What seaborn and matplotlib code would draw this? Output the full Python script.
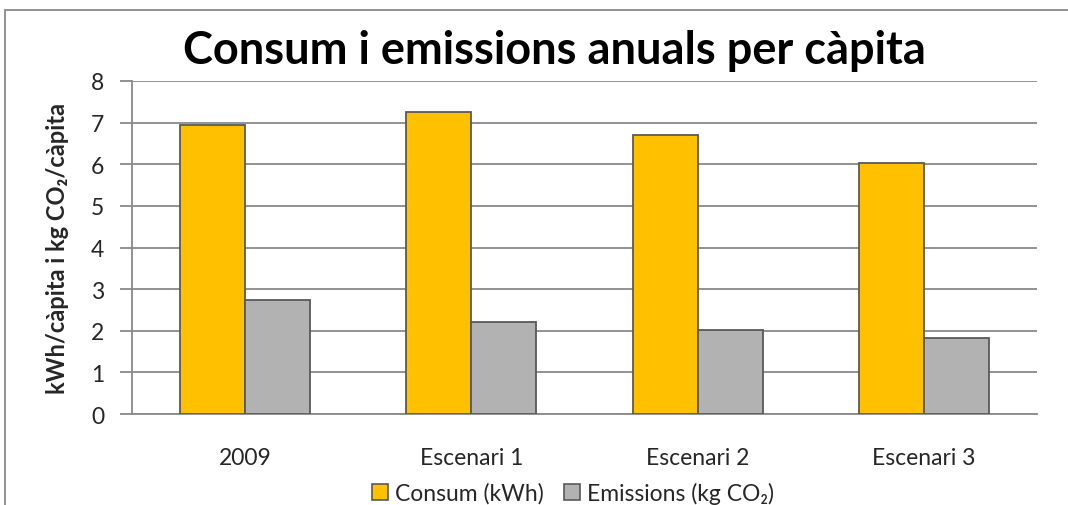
import matplotlib
matplotlib.use("Agg")
import matplotlib.pyplot as plt
from matplotlib.patches import Rectangle, Patch
import seaborn as sns
import pandas as pd

# Annual per-capita figures per scenario
categories = ["2009", "Escenari 1", "Escenari 2", "Escenari 3"]
consum_kwh = [6.95, 7.25, 6.71, 6.04]
emissions_kg = [2.75, 2.20, 2.03, 1.83]
series_names = ["Consum (kWh)", "Emissions (kg CO₂)"]
y_ticks = [0, 1, 2, 3, 4, 5, 6, 7, 8]

df = pd.DataFrame({
    "categoria": categories * 2,
    "serie": [series_names[0]] * len(categories) + [series_names[1]] * len(categories),
    "valor": consum_kwh + emissions_kg,
})

sns.set_theme(style="white")
plt.rcParams["font.family"] = ["Lato", "DejaVu Sans"]

W, H = 1068, 506
fig = plt.figure(figsize=(W / 100, H / 100), dpi=100)
fig.patch.set_facecolor("white")
ax = fig.add_axes([132 / W, 1 - 415 / H, 905 / W, 333 / H])

colors = {series_names[0]: "#FFC000", series_names[1]: "#B2B2B2"}
sns.barplot(data=df, x="categoria", y="valor", hue="serie", order=categories,
            hue_order=series_names, palette=colors, width=0.575,
            edgecolor="#595959", linewidth=1.3, saturation=1, ax=ax,
            legend=False, zorder=3)

ax.set_ylim(0, 8)
ax.set_xlim(-0.5, len(categories) - 0.5)
ax.set_yticks(y_ticks)
ax.set_yticklabels([str(t) for t in y_ticks], fontsize=16.5)
ax.tick_params(axis="y", length=9, width=1.3, color="#898989", pad=11, left=True)
ax.tick_params(axis="x", length=0, pad=24, labelsize=16.5)
ax.grid(axis="y", color="#898989", linewidth=1.3, zorder=0)
ax.set_axisbelow(True)
for side in ["top", "right"]:
    ax.spines[side].set_visible(False)
for side in ["left", "bottom"]:
    ax.spines[side].set_color("#898989")
    ax.spines[side].set_linewidth(1.3)
ax.set_xlabel("")
ax.set_ylabel("kWh/càpita i kg CO₂/càpita", fontsize=17, fontweight="bold", labelpad=16)

fig.text(554 / W, 1 - 51 / H, "Consum i emissions anuals per càpita",
         ha="center", va="center", fontsize=32.5, fontweight="bold", color="black")

handles = [Patch(facecolor=colors[s], edgecolor="#595959", linewidth=1.2, label=s)
           for s in series_names]
fig.legend(handles=handles, loc="center", bbox_to_anchor=(573 / W, 1 - 494 / H),
           ncol=2, frameon=False, fontsize=16.5, handlelength=0.7, handleheight=0.7,
           handletextpad=0.3, columnspacing=0.9, borderaxespad=0)

# chart frame
fig.patches.append(Rectangle((5 / W, -0.1), 1.2, 1 - 11 / H + 0.1, transform=fig.transFigure,
                             fill=False, edgecolor="#898989", linewidth=1.3))

fig.savefig("out.png", dpi=100)
